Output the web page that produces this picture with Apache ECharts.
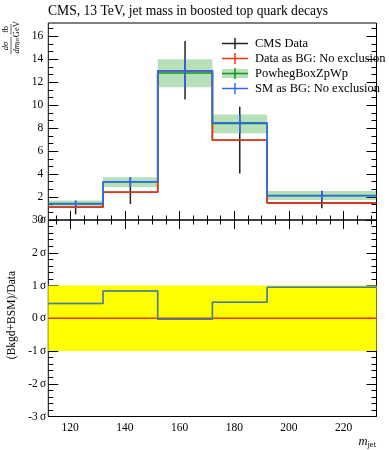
<!DOCTYPE html>
<html><head><meta charset="utf-8">
<script src="https://cdn.jsdelivr.net/npm/echarts@6/dist/echarts.min.js"></script>
<style>html,body{margin:0;padding:0;background:#fff}#c{width:389px;height:450px}</style>
</head><body><div id="c"></div>
<script>
// ---- data ----
const binEdges = [112, 132, 152, 172, 192, 232];
const binCenters = [122, 142, 162, 182, 212];
const cmsData = [1.1, 2.42, 13.0, 6.95, 1.48];
const cmsErrLow = [0.5, 1.39, 10.5, 4.06, 1.02];
const cmsErrHigh = [1.68, 3.72, 15.6, 9.87, 2.55];
const dataAsBG = [1.12, 2.42, 13.0, 6.94, 1.48];
const powheg = [1.43, 3.3, 12.8, 8.4, 2.13];
const powhegLow = [1.17, 2.85, 11.56, 7.55, 1.74];
const powhegHigh = [1.7, 3.72, 14.0, 9.2, 2.52];
const smAsBG = [1.39, 3.33, 13.0, 8.47, 2.11];
const dataAsBGSignif = [0, 0, 0, 0, 0];
const smAsBGSignif = [0.45, 0.83, -0.03, 0.49, 0.95];
const xTickLabels = [120, 140, 160, 180, 200, 220];
const yTickLabelsTop = [0, 2, 4, 6, 8, 10, 12, 14, 16];
const yTickLabelsBottom = [-3, -2, -1, 0, 1, 2, 3];

// ---- styling ----
const FONT = '"Liberation Serif", "DejaVu Serif", serif';
const RED = '#EE3311', BLUE = '#3366FF', GREEN = '#109618';
const X0 = 48.3, XW = 328.2;
const TOP0 = 23, H0 = 197, TOP1 = 220, H1 = 196.5;
const XMIN = 112, XMAX = 232, YMAX0 = 17.16;

function range(a, b, s) { const r = []; for (let v = a; v <= b + 1e-9; v += s) r.push(+v.toFixed(4)); return r; }
const xMinor = range(115, 230, 5).filter(v => v % 20 !== 0);
const yMinorTop = range(0, 17, 2 / 3).filter(v => Math.abs(v / 2 - Math.round(v / 2)) > 1e-3);
const yMinorBottom = range(-3, 3, 0.2).filter(v => Math.abs(v - Math.round(v)) > 1e-3);

function tickAxis(grid, pos, min, max, values, len, label) {
  return {
    type: 'value', gridIndex: grid, position: pos, min: min, max: max,
    axisLine: { show: false }, splitLine: { show: false },
    axisTick: { show: true, inside: true, length: len, customValues: values, lineStyle: { color: '#000', width: 1 } },
    axisLabel: label ? Object.assign({ show: true, customValues: values, fontFamily: FONT, fontSize: 11.5, color: '#000' }, label) : { show: false }
  };
}

const xAxes = [
  tickAxis(0, 'bottom', XMIN, XMAX, xTickLabels, 9, null),
  tickAxis(1, 'bottom', XMIN, XMAX, xTickLabels, 9, { margin: 5 }),
  tickAxis(0, 'bottom', XMIN, XMAX, xMinor, 4.5, null),
  tickAxis(0, 'top', XMIN, XMAX, xTickLabels, 9, null),
  tickAxis(0, 'top', XMIN, XMAX, xMinor, 4.5, null),
  tickAxis(1, 'bottom', XMIN, XMAX, xMinor, 4.5, null),
  tickAxis(1, 'top', XMIN, XMAX, xTickLabels, 9, null),
  tickAxis(1, 'top', XMIN, XMAX, xMinor, 4.5, null)
];
const yAxes = [
  tickAxis(0, 'left', 0, YMAX0, yTickLabelsTop, 10, { margin: 5, showMaxLabel: true }),
  tickAxis(1, 'left', -3, 3, yTickLabelsBottom, 10, { margin: 2, formatter: v => v + '\u2009\u03c3' }),
  tickAxis(0, 'left', 0, YMAX0, yMinorTop, 5, null),
  tickAxis(0, 'right', 0, YMAX0, yTickLabelsTop, 10, null),
  tickAxis(0, 'right', 0, YMAX0, yMinorTop, 5, null),
  tickAxis(1, 'left', -3, 3, yMinorBottom, 5, null),
  tickAxis(1, 'right', -3, 3, yTickLabelsBottom, 10, null),
  tickAxis(1, 'right', -3, 3, yMinorBottom, 5, null)
];

function steps(vals) { return binEdges.map((x, i) => [x, vals[Math.min(i, vals.length - 1)]]); }
function stepSeries(name, vals, color, grid, z, extra) {
  return Object.assign({
    name: name, type: 'line', xAxisIndex: grid, yAxisIndex: grid, data: steps(vals), step: 'end',
    symbol: 'none', lineStyle: { color: color, width: 1.5 }, z: z, silent: true, animation: false
  }, extra || {});
}
function errorSeries(color, lows, highs, z) {
  return {
    type: 'custom', xAxisIndex: 0, yAxisIndex: 0, z: z, silent: true, animation: false,
    data: binCenters.map((c, i) => [c, lows[i], highs[i]]),
    encode: { x: 0, y: [1, 2] },
    renderItem: (p, api) => {
      const a = api.coord([api.value(0), api.value(1)]);
      const b = api.coord([api.value(0), api.value(2)]);
      return { type: 'line', shape: { x1: a[0], y1: a[1], x2: b[0], y2: b[1] }, style: { stroke: color, lineWidth: 1.5 } };
    }
  };
}

const series = [
  { // PowhegBoxZpWp uncertainty band
    type: 'custom', xAxisIndex: 0, yAxisIndex: 0, z: 1, silent: true, animation: false,
    data: binCenters.map((c, i) => [binEdges[i], binEdges[i + 1], powhegLow[i], powhegHigh[i]]),
    encode: { x: [0, 1], y: [2, 3] },
    renderItem: (p, api) => {
      const a = api.coord([api.value(0), api.value(3)]);
      const b = api.coord([api.value(1), api.value(2)]);
      return { type: 'rect', shape: { x: a[0], y: a[1], width: b[0] - a[0], height: b[1] - a[1] }, style: { fill: 'rgba(16,150,24,0.3)' } };
    }
  },
  errorSeries('#222', cmsErrLow, cmsErrHigh, 2),
  stepSeries('CMS Data', cmsData, '#222', 0, 2),
  stepSeries('Data as BG: No exclusion', dataAsBG, RED, 0, 3),
  stepSeries('PowhegBoxZpWp', powheg, GREEN, 0, 4),
  stepSeries('SM as BG: No exclusion', smAsBG, BLUE, 0, 5),
  errorSeries(BLUE, powhegLow, powhegHigh, 5),
  // ratio panel
  stepSeries('Data as BG signif', dataAsBGSignif, RED, 1, 5, {
    markArea: { silent: true, itemStyle: { color: '#ffff00' }, data: [[{ xAxis: XMIN, yAxis: -1 }, { xAxis: XMAX, yAxis: 1 }]] }
  }),
  stepSeries('PowhegBoxZpWp signif', smAsBGSignif, GREEN, 1, 6, { lineStyle: { color: GREEN, width: 1.5, opacity: 0.5 } }),
  stepSeries('SM as BG signif', smAsBGSignif, BLUE, 1, 7, { lineStyle: { color: '#4d78b0', width: 1.5 } })
];

// legend drawn as graphics
const legendItems = [
  { text: 'CMS Data', color: '#222', band: false },
  { text: 'Data as BG: No exclusion', color: RED, band: false },
  { text: 'PowhegBoxZpWp', color: GREEN, band: true },
  { text: 'SM as BG: No exclusion', color: BLUE, band: false }
];
const graphics = [];
legendItems.forEach((it, i) => {
  const y = 43.5 + i * 15;
  if (it.band) graphics.push({ type: 'rect', shape: { x: 222, y: y - 4.5, width: 26, height: 9 }, style: { fill: 'rgba(16,150,24,0.3)' }, silent: true });
  graphics.push({ type: 'line', shape: { x1: 222, y1: y, x2: 248, y2: y }, style: { stroke: it.color, lineWidth: 1.5 }, silent: true });
  graphics.push({ type: 'line', shape: { x1: 235, y1: y - 5.5, x2: 235, y2: y + 5.5 }, style: { stroke: it.color, lineWidth: 1.5 }, silent: true });
  graphics.push({ type: 'text', x: 255, y: y, style: { text: it.text, font: '12.5px ' + FONT, fill: '#000', textVerticalAlign: 'middle' }, silent: true });
});
graphics.push({ type: 'text', x: 48, y: 11.5, style: { text: 'CMS, 13 TeV, jet mass in boosted top quark decays', font: '13.6px ' + FONT, fill: '#000', textVerticalAlign: 'middle' }, silent: true });
graphics.push({ type: 'text', x: 376, y: 442, style: { text: '{i|m}{s|jet}', rich: { i: { fontFamily: FONT, fontStyle: 'italic', fontSize: 12.5 }, s: { fontFamily: FONT, fontSize: 8.5, padding: [6, 0, 0, 0] } }, fill: '#000', textAlign: 'right', textVerticalAlign: 'middle' }, silent: true });
graphics.push({ type: 'text', x: 12, y: 315, rotation: Math.PI / 2, style: { text: '(Bkgd+BSM)/Data', font: '11.5px ' + FONT, fill: '#000', textAlign: 'center', textVerticalAlign: 'middle' }, silent: true });
graphics.push({
  type: 'group', x: 11, y: 54, rotation: Math.PI / 2, silent: true,
  children: [
    { type: 'text', x: 8, y: -1, style: { text: 'd\u03c3', font: 'italic 8.5px ' + FONT, fill: '#000', textAlign: 'center', textVerticalAlign: 'bottom' } },
    { type: 'line', shape: { x1: 0, y1: 0, x2: 17, y2: 0 }, style: { stroke: '#000', lineWidth: 0.6 } },
    { type: 'text', x: 8.5, y: 1, style: { text: '{a|dm}{b|jet}', rich: { a: { fontFamily: FONT, fontSize: 8.5, fontStyle: 'italic' }, b: { fontFamily: FONT, fontSize: 5.5, padding: [3, 0, 0, 0] } }, fill: '#000', textAlign: 'center', textVerticalAlign: 'top' } },
    { type: 'text', x: 24.5, y: -1, style: { text: 'fb', font: '8.5px ' + FONT, fill: '#000', textAlign: 'center', textVerticalAlign: 'bottom' } },
    { type: 'line', shape: { x1: 19.5, y1: 0, x2: 30, y2: 0 }, style: { stroke: '#000', lineWidth: 0.6 } },
    { type: 'text', x: 24.8, y: 1, style: { text: 'GeV', font: '8.5px ' + FONT, fill: '#000', textAlign: 'center', textVerticalAlign: 'top' } }
  ]
});

const chart = echarts.init(document.getElementById('c'), null, { renderer: 'canvas' });
chart.setOption({
  animation: false,
  backgroundColor: '#fff',
  grid: [
    { left: X0, top: TOP0, width: XW, height: H0, show: true, borderColor: '#000', borderWidth: 1, backgroundColor: 'transparent' },
    { left: X0, top: TOP1, width: XW, height: H1, show: true, borderColor: '#000', borderWidth: 1, backgroundColor: 'transparent' }
  ],
  xAxis: xAxes,
  yAxis: yAxes,
  series: series,
  graphic: graphics
});
</script>
</body></html>
